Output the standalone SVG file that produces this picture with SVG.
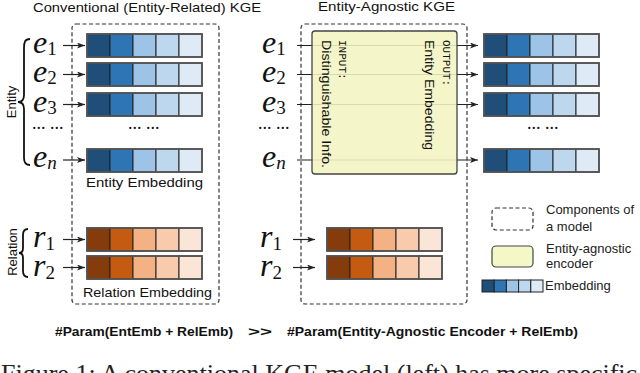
<svg xmlns="http://www.w3.org/2000/svg" xmlns:xlink="http://www.w3.org/1999/xlink" width="640" height="373" viewBox="0 0 640 373">
<style>
.ttl{font-family:"Liberation Sans",Arial,sans-serif;font-size:13px;fill:#111}
.lbl{font-family:"Liberation Sans",Arial,sans-serif;font-size:13px;fill:#111}
.mono{font-family:"Liberation Mono","DejaVu Sans Mono",monospace;font-size:11px;fill:#111}
.leg{font-family:"Liberation Sans",Arial,sans-serif;font-size:13px;fill:#222}
.math{font-family:"Liberation Serif","Times New Roman",serif;font-style:italic;font-size:32px;fill:#111}
.sub{font-style:normal;font-size:19px}
.subi{font-style:italic;font-size:19px}
.dots{font-family:"Liberation Serif",serif;font-size:18px;fill:#111}
.dash{fill:none;stroke:#333;stroke-width:1.2;stroke-dasharray:4 2.5}
.arr{stroke:#222;stroke-width:1.2;fill:none;marker-end:url(#ah)}
.brace{fill:none;stroke:#111;stroke-width:1.8}
.cap{font-family:"Liberation Serif","Times New Roman",serif;font-size:26px;fill:#222}
</style>
<defs>
<marker id="ah" viewBox="0 0 8 6" refX="8" refY="3" markerWidth="8" markerHeight="6" markerUnits="userSpaceOnUse" orient="auto">
<path d="M0,0 L8,3 L0,6 L2,3 z" fill="#222"/>
</marker>
<g id="brow">
<rect x="0" y="0" width="23" height="23" fill="#1f4e79" stroke="#222" stroke-width="1"/>
<rect x="23" y="0" width="23" height="23" fill="#2e75b6" stroke="#222" stroke-width="1"/>
<rect x="46" y="0" width="23" height="23" fill="#9dc3e6" stroke="#222" stroke-width="1"/>
<rect x="69" y="0" width="23" height="23" fill="#bdd7ee" stroke="#222" stroke-width="1"/>
<rect x="92" y="0" width="23" height="23" fill="#deebf7" stroke="#222" stroke-width="1"/>
<rect x="0" y="0" width="115" height="23" fill="none" stroke="#555" stroke-width="1.8"/>
</g>
<g id="orow">
<rect x="0" y="0" width="23" height="23" fill="#843c0c" stroke="#222" stroke-width="1"/>
<rect x="23" y="0" width="23" height="23" fill="#c55a11" stroke="#222" stroke-width="1"/>
<rect x="46" y="0" width="23" height="23" fill="#f4b183" stroke="#222" stroke-width="1"/>
<rect x="69" y="0" width="23" height="23" fill="#f8cbad" stroke="#222" stroke-width="1"/>
<rect x="92" y="0" width="23" height="23" fill="#fbe5d6" stroke="#222" stroke-width="1"/>
<rect x="0" y="0" width="115" height="23" fill="none" stroke="#555" stroke-width="1.8"/>
</g>
</defs>
<rect width="640" height="373" fill="#fff"/>

<g id="titles">
<text class="ttl" x="33" y="12" textLength="228" lengthAdjust="spacingAndGlyphs">Conventional (Entity-Related) KGE</text>
<text class="ttl" x="318" y="11" textLength="137" lengthAdjust="spacingAndGlyphs">Entity-Agnostic KGE</text>
</g>

<g id="left-model-box"><rect class="dash" x="72" y="24" width="147" height="280" rx="4"/></g>
<g id="right-model-box"><rect class="dash" x="301" y="24" width="166" height="280" rx="4"/></g>

<g id="connectors">
<line class="arr" x1="63" y1="45.5" x2="85" y2="45.5"/>
<line class="arr" x1="63" y1="74.5" x2="85" y2="74.5"/>
<line class="arr" x1="63" y1="104.5" x2="85" y2="104.5"/>
<line class="arr" x1="63" y1="160" x2="85" y2="160"/>
<line class="arr" x1="63" y1="239.5" x2="85" y2="239.5"/>
<line class="arr" x1="63" y1="267.5" x2="85" y2="267.5"/>
<line class="arr" x1="297" y1="45.5" x2="478" y2="45.5"/>
<line class="arr" x1="297" y1="74.5" x2="478" y2="74.5"/>
<line class="arr" x1="297" y1="104.5" x2="478" y2="104.5"/>
<line class="arr" x1="297" y1="160" x2="478" y2="160"/>
<line class="arr" x1="293" y1="239.5" x2="315" y2="239.5"/>
<line class="arr" x1="293" y1="267.5" x2="315" y2="267.5"/>
</g>

<g id="entity-brace">
<path class="brace" d="M30,39 C25,39 24,42 24,48 L24,95 C24,99 22,102 18,102 C22,102 24,105 24,109 L24,158 C24,162 25,165 30,165"/>
<text class="lbl" transform="translate(16,102) rotate(-90)" text-anchor="middle">Entity</text>
</g>
<g id="relation-brace">
<path class="brace" d="M28,229 C24,229 23,231 23,235 L23,248 C23,251 22,253 19,253 C22,253 23,255 23,258 L23,271 C23,275 24,277 28,277"/>
<text class="lbl" transform="translate(17,252) rotate(-90)" text-anchor="middle">Relation</text>
</g>

<g id="left-entity-labels">
<text class="math" x="33" y="53">e<tspan class="sub" dy="2">1</tspan></text>
<text class="math" x="33" y="82">e<tspan class="sub" dy="2">2</tspan></text>
<text class="math" x="33" y="112">e<tspan class="sub" dy="2">3</tspan></text>
<text class="dots" x="32" y="129">... ...</text>
<text class="math" x="33" y="167">e<tspan class="subi" dy="2">n</tspan></text>
</g>
<g id="left-entity-embedding">
<use xlink:href="#brow" x="87" y="34"/>
<use xlink:href="#brow" x="87" y="63"/>
<use xlink:href="#brow" x="87" y="93"/>
<text class="dots" x="128" y="129">... ...</text>
<use xlink:href="#brow" x="87" y="149"/>
<text class="lbl" x="86" y="187" textLength="117" lengthAdjust="spacingAndGlyphs">Entity Embedding</text>
</g>
<g id="left-relation-labels">
<text class="math" x="33" y="247">r<tspan class="sub" dy="3">1</tspan></text>
<text class="math" x="33" y="276">r<tspan class="sub" dy="3">2</tspan></text>
</g>
<g id="left-relation-embedding">
<use xlink:href="#orow" x="87" y="228"/>
<use xlink:href="#orow" x="87" y="256"/>
<text class="lbl" x="83" y="297" textLength="129" lengthAdjust="spacingAndGlyphs">Relation Embedding</text>
</g>

<g id="right-entity-labels">
<text class="math" x="262" y="53">e<tspan class="sub" dy="2">1</tspan></text>
<text class="math" x="262" y="82">e<tspan class="sub" dy="2">2</tspan></text>
<text class="math" x="262" y="112">e<tspan class="sub" dy="2">3</tspan></text>
<text class="dots" x="258" y="129">... ...</text>
<text class="math" x="262" y="167">e<tspan class="subi" dy="2">n</tspan></text>
</g>
<g id="encoder">
<rect x="312" y="31" width="145" height="143" rx="3" fill="#f2f5c2" fill-opacity="0.88" stroke="#444" stroke-width="1.3"/>
<text class="lbl" transform="translate(322,40) rotate(90)" textLength="128" lengthAdjust="spacingAndGlyphs">Distinguishable Info.</text>
<text class="mono" transform="translate(339,40) rotate(90)">INPUT:</text>
<text class="lbl" transform="translate(425,40) rotate(90)" textLength="110" lengthAdjust="spacingAndGlyphs">Entity Embedding</text>
<text class="mono" transform="translate(443,40) rotate(90)">OUTPUT:</text>
</g>
<g id="right-entity-embedding">
<use xlink:href="#brow" x="484" y="34"/>
<use xlink:href="#brow" x="484" y="63"/>
<use xlink:href="#brow" x="484" y="93"/>
<text class="dots" x="527" y="129">... ...</text>
<use xlink:href="#brow" x="484" y="149"/>
</g>
<g id="right-relation-labels">
<text class="math" x="260" y="247">r<tspan class="sub" dy="3">1</tspan></text>
<text class="math" x="260" y="276">r<tspan class="sub" dy="3">2</tspan></text>
</g>
<g id="right-relation-embedding">
<use xlink:href="#orow" x="327" y="228"/>
<use xlink:href="#orow" x="327" y="256"/>
</g>

<g id="comparison">
<text class="lbl" x="55" y="336" font-weight="bold" textLength="178" lengthAdjust="spacingAndGlyphs">#Param(EntEmb + RelEmb)</text>
<text class="lbl" x="248" y="336" font-weight="bold" textLength="24" lengthAdjust="spacingAndGlyphs">&gt;&gt;</text>
<text class="lbl" x="287" y="336" font-weight="bold" textLength="291" lengthAdjust="spacingAndGlyphs">#Param(Entity-Agnostic Encoder + RelEmb)</text>
</g>

<g id="legend">
<rect class="dash" x="492" y="208" width="41" height="22" rx="4"/>
<text class="leg" x="546" y="214">Components of</text>
<text class="leg" x="546" y="231">a model</text>
<rect x="492" y="246" width="41" height="21" rx="4" fill="#f4f7c6" stroke="#444" stroke-width="1.2"/>
<text class="leg" x="546" y="253">Entity-agnostic</text>
<text class="leg" x="546" y="268">encoder</text>
<rect x="482" y="280" width="12.2" height="12" fill="#1f4e79" stroke="#222" stroke-width="1"/>
<rect x="494.2" y="280" width="12.2" height="12" fill="#2e75b6" stroke="#222" stroke-width="1"/>
<rect x="506.4" y="280" width="12.2" height="12" fill="#9dc3e6" stroke="#222" stroke-width="1"/>
<rect x="518.6" y="280" width="12.2" height="12" fill="#bdd7ee" stroke="#222" stroke-width="1"/>
<rect x="530.8" y="280" width="12.2" height="12" fill="#deebf7" stroke="#222" stroke-width="1"/>
<text class="leg" x="545" y="290">Embedding</text>
</g>

<g id="caption">
<text class="cap" x="1" y="382">Figure 1: A conventional KGE model (left) has more specific</text>
</g>
</svg>
